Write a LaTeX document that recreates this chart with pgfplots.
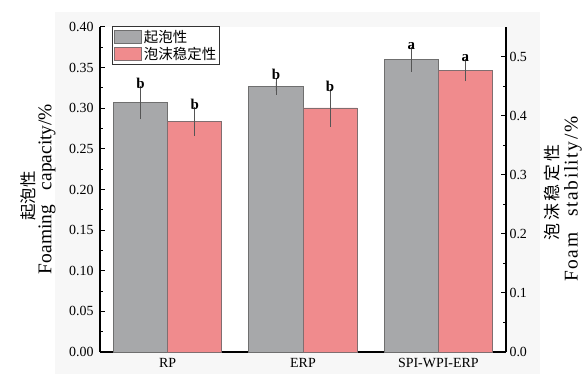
\documentclass[border=0pt]{standalone}
\usepackage{fontspec}
\setmainfont{Liberation Serif}
\newfontfamily\cjk{Noto Sans CJK SC}
\newfontfamily\cjkls{Noto Sans CJK SC}[LetterSpace=16]
\newfontfamily\serifls{Liberation Serif}[LetterSpace=8]
\usepackage{pgfplots}
\pgfplotsset{compat=1.18}
\pgfplotsset{rectlegend/.style={legend image code/.code={\draw[##1] (0bp,-6.5bp) rectangle (27bp,6.5bp);}}}
\definecolor{bargray}{HTML}{A7A8AA}
\definecolor{bargrayedge}{HTML}{6F6F6F}
\definecolor{barred}{HTML}{F08B8D}
\definecolor{barrededge}{HTML}{806E70}
\definecolor{errc}{HTML}{555555}
\begin{document}
\begin{tikzpicture}[x=1bp,y=1bp]
\path[use as bounding box] (0,0) rectangle (582,374);
\fill[black!3] (55,0) rectangle (540,362);
\begin{axis}[
  scale only axis, width=406bp, height=325bp,
  at={(100bp,22bp)}, anchor=south west,
  xmin=-0.5, xmax=2.5, ymin=0, ymax=0.40,
  axis y line*=left, axis x line*=bottom,
  axis line style={line width=1.1bp, -},
  axis background/.style={fill=white},
  xtick={0,1,2}, xticklabels={RP,ERP,SPI-WPI-ERP},
  major x tick style={draw=none},
  xticklabel style={yshift=-3bp},
  ytick={0,0.05,0.10,0.15,0.20,0.25,0.30,0.35,0.40},
  minor y tick num=1,
  tick align=inside,
  major tick length=5bp, minor tick length=3bp,
  every tick/.style={line width=1bp, black},
  ticklabel style={font=\fontsize{14}{16}\selectfont},
  yticklabel style={xshift=-3bp, /pgf/number format/.cd, fixed, fixed zerofill, precision=2, assume math mode=true},
  ylabel={Foaming\hspace{10bp} capacity/\%},
  ylabel style={at={(axis description cs:-0.1305,0.5015)}, anchor=center, font=\fontsize{19.5}{20}\selectfont},
  legend style={at={(axis description cs:0.03,1.003)}, anchor=north west, draw=black!80, line width=0.8bp,
    inner sep=1.5bp, row sep=0pt, font=\fontsize{14.5}{15}\selectfont\cjk, cells={anchor=west}},
  after end axis/.code={\node[rotate=90, anchor=center, font=\fontsize{16.5}{17}\selectfont\cjk] at (axis description cs:-0.176,0.48) {起泡性};},
]
\addplot[ybar, bar width=0.4, bar shift=0, fill=bargray, draw=bargrayedge, line width=0.9bp, rectlegend,
  error bars/.cd, y dir=both, y explicit,
  error bar style={line width=0.8bp, errc},
  error mark options={mark size=4bp, line width=0.8bp, errc}]
  coordinates {(-0.2,0.307) +- (0,0.0155) (0.8,0.327) +- (0,0.0055) (1.8,0.360) +- (0,0.010)};
\addlegendentry{起泡性}
\addlegendimage{fill=barred, draw=barrededge, line width=0.9bp, rectlegend}
\addlegendentry{泡沫稳定性}
\addplot[forget plot, draw=none, mark=none,
  point meta=explicit symbolic, nodes near coords,
  every node near coord/.append style={font=\fontsize{15}{15}\selectfont\bfseries, text=black, anchor=south, inner sep=1.5bp}]
  coordinates {(-0.2,0.3225)[b] (0.8,0.3325)[b] (1.8,0.370)[a]};
\end{axis}
\begin{axis}[
  scale only axis, width=406bp, height=325bp,
  at={(100bp,22bp)}, anchor=south west,
  xmin=-0.5, xmax=2.5, ymin=0, ymax=0.55,
  axis y line*=right, axis x line=none,
  axis line style={line width=1.1bp, -},
  ytick={0,0.1,0.2,0.3,0.4,0.5},
  minor y tick num=1,
  tick align=inside,
  major tick length=5bp, minor tick length=3bp,
  every tick/.style={line width=1bp, black},
  ticklabel style={font=\fontsize{14}{16}\selectfont},
  yticklabel style={/pgf/number format/.cd, fixed, fixed zerofill, precision=1, assume math mode=true},
  ylabel={\serifls Foam\hspace{10bp} stability/\%},
  ylabel style={at={(axis description cs:1.165,0.47)}, anchor=center, font=\fontsize{19.5}{20}\selectfont},
  after end axis/.code={\node[rotate=90, anchor=center, font=\fontsize{17}{17}\selectfont\cjkls] at (axis description cs:1.113,0.49) {泡沫稳定性};},
]
\addplot[ybar, bar width=0.4, bar shift=0, fill=barred, draw=barrededge, line width=0.9bp,
  error bars/.cd, y dir=both, y explicit,
  error bar style={line width=0.8bp, errc},
  error mark options={mark size=4bp, line width=0.8bp, errc}]
  coordinates {(0.2,0.390) +- (0,0.017) (1.2,0.413) +- (0,0.025) (2.2,0.477) +- (0,0.012)};
\addplot[forget plot, draw=none, mark=none,
  point meta=explicit symbolic, nodes near coords,
  every node near coord/.append style={font=\fontsize{15}{15}\selectfont\bfseries, text=black, anchor=south, inner sep=1.5bp}]
  coordinates {(0.2,0.407)[b] (1.2,0.438)[b] (2.2,0.489)[a]};
\end{axis}
\end{tikzpicture}
\end{document}
